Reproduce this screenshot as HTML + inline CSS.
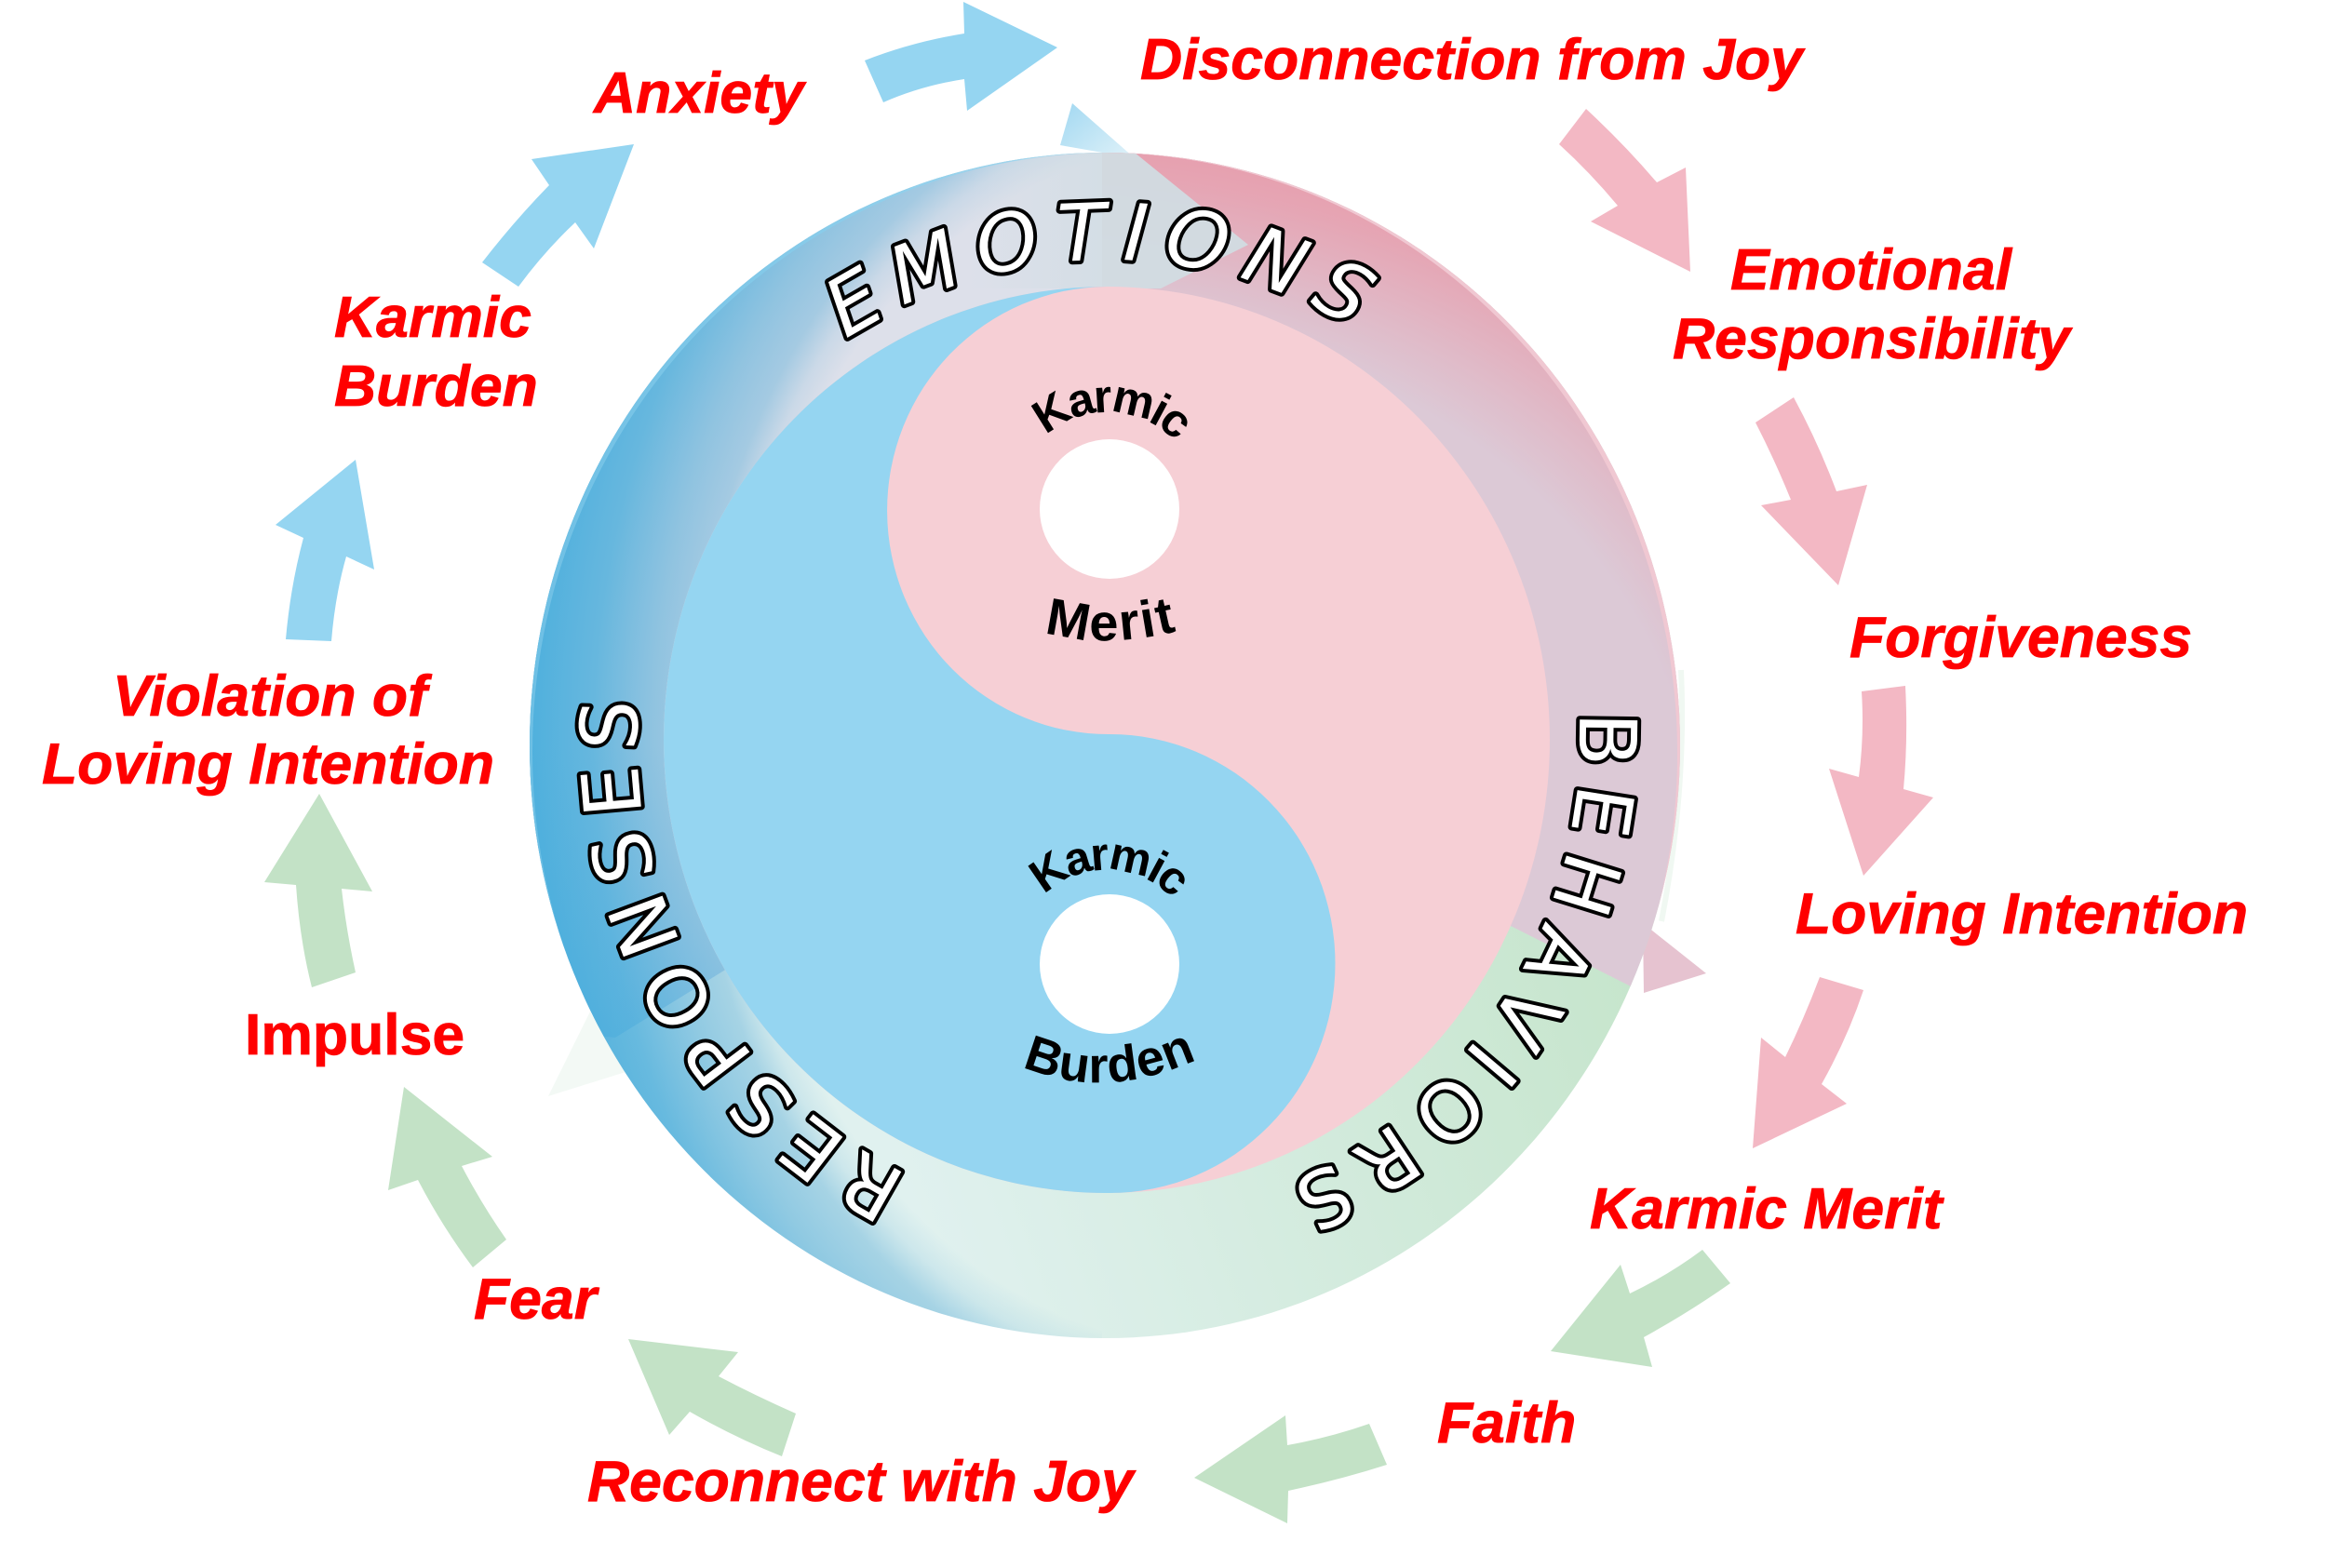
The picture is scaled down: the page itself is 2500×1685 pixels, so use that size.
<!DOCTYPE html>
<html><head><meta charset="utf-8"><style>
html,body{margin:0;padding:0;background:#fff}
svg{display:block}
.r{font:italic bold 62.5px "Liberation Sans",sans-serif;fill:#f00;stroke:#f00;stroke-width:.8px}
.o{font:85px "DejaVu Sans",sans-serif;fill:#fff;stroke:#000;stroke-width:8px;stroke-linejoin:round;paint-order:stroke}
.k{font:bold 50px "Liberation Sans",sans-serif;fill:#000}
</style></head><body>
<svg xmlns="http://www.w3.org/2000/svg" width="2500" height="1685" viewBox="0 0 2500 1685">
<defs>
<clipPath id="disc"><ellipse cx="1187" cy="801" rx="618" ry="637"/></clipPath>
<clipPath id="leftx"><rect x="0" y="0" width="1184" height="1685"/></clipPath>
<clipPath id="rightx"><path d="M1184 0H1900V1134L1766 1067L1623 995L1190 795H1184Z"/></clipPath>
<linearGradient id="gg" gradientUnits="userSpaceOnUse" x1="1766" y1="1067" x2="1000" y2="1350"><stop offset="0" stop-color="#c6e5cc"/><stop offset="1" stop-color="#e0f1ef"/></linearGradient>
<radialGradient id="bg" gradientUnits="userSpaceOnUse" cx="0" cy="0" r="1.4" gradientTransform="translate(1300 800) scale(530 680)">
<stop offset=".679" stop-color="#5fafd8" stop-opacity="0"/><stop offset=".714" stop-color="#5fafd8" stop-opacity=".15"/><stop offset=".75" stop-color="#5fafd8" stop-opacity=".45"/><stop offset=".807" stop-color="#5cb0da" stop-opacity=".6"/><stop offset=".893" stop-color="#52b0dc" stop-opacity=".85"/><stop offset=".986" stop-color="#4fb0dd"/></radialGradient>
<radialGradient id="pg" gradientUnits="userSpaceOnUse" cx="0" cy="0" r="1.3" gradientTransform="translate(1100 900) scale(760 600)">
<stop offset=".731" stop-color="#e79fae" stop-opacity="0"/><stop offset=".8" stop-color="#e79fae" stop-opacity=".3"/><stop offset=".915" stop-color="#e79fae" stop-opacity=".85"/><stop offset=".96" stop-color="#e79fae"/></radialGradient>
<radialGradient id="brim" gradientUnits="userSpaceOnUse" cx="1300" cy="800" r="740">
<stop offset=".8" stop-color="#d8eff8"/><stop offset=".88" stop-color="#a5d8ef"/><stop offset="1" stop-color="#66bce3"/></radialGradient>
<linearGradient id="dark" gradientUnits="userSpaceOnUse" x1="0" y1="1110" x2="0" y2="800"><stop offset="0" stop-color="#3fa9dc" stop-opacity=".35"/><stop offset="1" stop-color="#3fa9dc" stop-opacity="0"/></linearGradient>
<linearGradient id="tip" gradientUnits="userSpaceOnUse" x1="1150" y1="111" x2="1200" y2="170"><stop offset="0" stop-color="#a6daf2"/><stop offset="1" stop-color="#d9eff8"/></linearGradient>
<linearGradient id="blend" gradientUnits="userSpaceOnUse" x1="1040" y1="0" x2="1184" y2="0"><stop offset="0" stop-color="#d0dde3" stop-opacity="0"/><stop offset="1" stop-color="#d0dde3" stop-opacity=".7"/></linearGradient>
<path id="pe" d="M909 365A510 516 0 0 1 1500 385"/>
<path id="pb" d="M1696 765A507 516 0 0 1 1278 1303"/>
<path id="pr" d="M976 1262A505 515 0 0 1 715 619"/>
<path id="k1" d="M1124 468A100 100 0 0 1 1279 497"/>
<path id="k2" d="M1122 962A96 96 0 0 1 1275 988"/>
<path id="m1" d="M1122 679Q1195 701 1290 671"/>
<path id="b1" d="M1098 1146Q1188 1186 1296 1134"/>
</defs>

<!-- faint outer parts -->
<path d="M1806 720Q1812 850 1785 990" fill="none" stroke="#f0f8f2" stroke-width="6"/>
<polygon points="589,1178 634,1087 672,1152" fill="#f3f9f5"/>
<polygon points="1152,111 1139,156 1219,170" fill="url(#tip)"/>
<polygon points="1765,992 1833,1046 1766,1067" fill="#e6c3d0"/>

<!-- ring -->
<g clip-path="url(#disc)">
<rect x="500" y="100" width="1400" height="1400" fill="url(#gg)"/>
<path d="M781 1041L400 1276V0H1184V795H1190Z" fill="#dde0ea"/>
<path d="M1184 0H1900V1134L1766 1067L1623 995L1190 795H1184Z" fill="#dcc9d6"/>
<g clip-path="url(#rightx)"><rect x="1184" y="100" width="800" height="1100" fill="url(#pg)"/></g>
<g clip-path="url(#leftx)"><rect x="500" y="100" width="700" height="1400" fill="url(#bg)"/></g>
<polygon points="781,1041 661,1115 500,1100 500,800 781,800" fill="url(#dark)"/>
<rect x="1040" y="164" width="144" height="146" fill="url(#blend)"/>
<polygon points="1184,160 1219,164 1341,263 1247,310 1184,310" fill="#d0dde3" fill-opacity=".92"/>
<g clip-path="url(#leftx)"><path fill-rule="evenodd" d="M400 0H1300V1600H400Z M572 808a622 644 0 1 0 1244 0a622 644 0 1 0 -1244 0Z" fill="url(#brim)"/></g>
<g clip-path="url(#rightx)"><path fill-rule="evenodd" d="M1100 0H1900V1300H1100Z M564 810a619 646 0 1 0 1238 0a619 646 0 1 0 -1238 0Z" fill="#f0c8d2"/></g>
</g>

<!-- yin yang -->
<ellipse cx="1189" cy="795" rx="476" ry="487" fill="#f6cfd5"/>
<path d="M1189 308A476 487 0 0 0 1189 1282H1192A242 246 0 0 0 1192 789A237 240 0 0 1 1189 308Z" fill="#95d5f1"/>
<ellipse cx="1192" cy="547" rx="75" ry="75" fill="#fff"/>
<ellipse cx="1192" cy="1036" rx="75" ry="75" fill="#fff"/>

<!-- arrows -->
<g fill="#95d5f1">
<path d="M307 687Q312 630 326 578L296 564L382 494L402 612L372 598Q360 640 356 689Z"/>
<path d="M518 282Q552 238 590 199L571 171L681 155L638 267L618 239Q585 270 557 308Z"/>
<path d="M929 65Q980 45 1036 36L1035 2L1136 51L1039 119L1036 85Q990 92 949 110Z"/>
</g>
<g fill="#f3b8c4">
<path d="M1704 117Q1745 155 1780 196L1811 180L1816 292L1709 238L1738 221Q1708 185 1675 155Z"/>
<path d="M1927 427Q1953 475 1973 528L2006 521L1975 629L1892 543L1924 537Q1907 495 1886 454Z"/>
<path d="M2000 743L2047 737Q2050 795 2045 848L2077 857L2002 941L1965 826L1997 835Q2003 790 2000 743Z"/>
<path d="M1955 1050L2002 1064Q1985 1115 1957 1165L1984 1186L1883 1234L1892 1115L1918 1136Q1938 1095 1955 1050Z"/>
</g>
<g fill="#c3e2c6">
<path d="M1829 1343L1859 1379Q1815 1410 1766 1437L1775 1469L1666 1452L1741 1359L1751 1390Q1793 1370 1829 1343Z"/>
<path d="M1471 1530L1490 1574Q1440 1590 1384 1602L1383 1637L1283 1588L1381 1521L1383 1553Q1428 1545 1471 1530Z"/>
<path d="M855 1519L840 1565Q790 1545 741 1517L719 1542L675 1439L793 1453L772 1479Q812 1500 855 1519Z"/>
<path d="M544 1332Q518 1295 496 1253L529 1243L434 1168L417 1279L449 1268Q475 1318 508 1362Z"/>
<path d="M382 1045L335 1061Q322 1010 318 951L284 948L343 853L400 958L367 955Q372 1000 382 1045Z"/>
</g>

<!-- ring text -->
<text class="o" style="font-style:italic" letter-spacing="17"><textPath href="#pe">EMOTIONS</textPath></text>
<text class="o" letter-spacing="17.5"><textPath href="#pb">BEHAVIORS</textPath></text>
<text class="o" letter-spacing="14"><textPath href="#pr">RESPONSES</textPath></text>

<!-- yin yang labels -->
<text class="k" letter-spacing="-3"><textPath href="#k1">Karmic</textPath></text>
<text class="k" letter-spacing="-3"><textPath href="#k2">Karmic</textPath></text>
<text class="k" style="font-size:56px" letter-spacing="2.5"><textPath href="#m1">Merit</textPath></text>
<text class="k" style="font-size:54px" letter-spacing="1"><textPath href="#b1">Burden</textPath></text>

<!-- labels -->
<text class="r" x="1225" y="85">Disconnection from Joy</text>
<text class="r" x="638" y="121">Anxiety</text>
<text class="r" x="1859" y="311">Emotional</text>
<text class="r" x="1797" y="385">Responsibility</text>
<text class="r" x="1987" y="706">Forgiveness</text>
<text class="r" x="1929" y="1003">Loving Intention</text>
<text class="r" x="1708" y="1320">Karmic Merit</text>
<text class="r" x="1544" y="1550">Faith</text>
<text class="r" x="631" y="1613">Reconnect with Joy</text>
<text class="r" x="509" y="1417">Fear</text>
<text class="r" x="263" y="1133" style="font-style:normal">Impulse</text>
<text class="r" x="45" y="842">Loving Intention</text>
<text class="r" x="121" y="769">Violation of</text>
<text class="r" x="359" y="362">Karmic</text>
<text class="r" x="359" y="436">Burden</text>
</svg>
</body></html>
